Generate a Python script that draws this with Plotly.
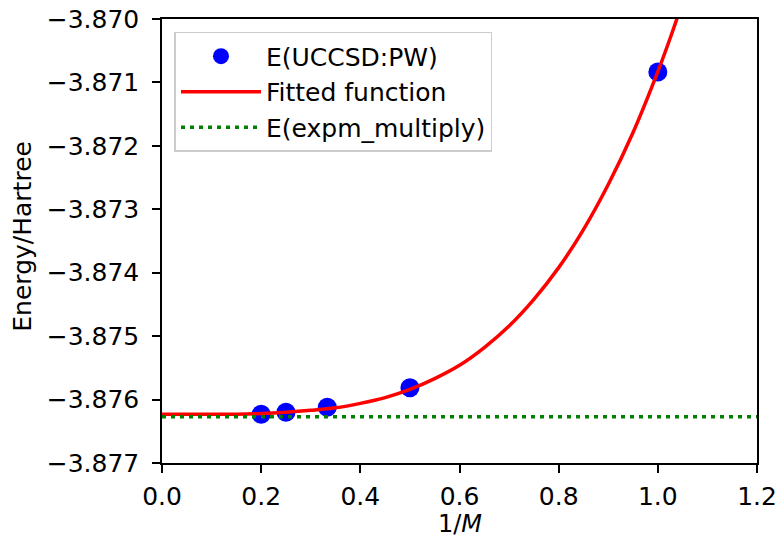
import plotly.graph_objects as go

# Data
inv_m = [0.2, 0.25, 1/3, 0.5, 1.0]
e_uccsd = [-3.876232, -3.876201, -3.876122, -3.875813, -3.870836]

fit_x = [0.0, 0.05, 0.1, 0.15, 0.2, 0.25, 0.3, 0.35, 0.4, 0.45, 0.5, 0.55, 0.6,
         0.65, 0.7, 0.75, 0.8, 0.85, 0.9, 0.95, 1.0, 1.025, 1.05]
fit_y = [-3.87623, -3.87623, -3.87623, -3.87623, -3.87622, -3.87620, -3.87617,
         -3.87613, -3.87606, -3.87597, -3.87584, -3.87567, -3.87546, -3.87518,
         -3.87484, -3.87442, -3.87392, -3.87332, -3.87261, -3.87179, -3.87083,
         -3.87030, -3.86973]

e_expm = -3.87627
x_range = [0.0, 1.2]
y_range = [-3.877, -3.870]
x_ticks = [0.0, 0.2, 0.4, 0.6, 0.8, 1.0, 1.2]
y_ticks = [-3.877, -3.876, -3.875, -3.874, -3.873, -3.872, -3.871, -3.870]

FONT = "DejaVu Sans"
FS = 25

fig = go.Figure()
fig.add_trace(go.Scatter(x=inv_m, y=e_uccsd, mode="markers", name="E(UCCSD:PW)",
                         marker=dict(color="#0000ff", size=19, line=dict(width=0))))
fig.add_trace(go.Scatter(x=fit_x, y=fit_y, mode="lines", name="Fitted function",
                         line=dict(color="#ff0000", width=3.5, shape="spline")))
fig.add_trace(go.Scatter(x=x_range, y=[e_expm, e_expm], mode="lines", name="E(expm_multiply)",
                         line=dict(color="#008000", width=3.5, dash="4px,5px")))

axis_common = dict(showline=True, linecolor="black", linewidth=1.5, mirror=True,
                   ticks="outside", ticklen=8, tickwidth=1.5, tickcolor="black",
                   showgrid=False, zeroline=False, automargin=False,
                   ticklabeloverflow="allow",
                   tickfont=dict(family=FONT, size=FS, color="black"))

fig.update_xaxes(range=x_range, tickvals=x_ticks, tickformat=".1f",
                 ticklabelstandoff=2, **axis_common)
fig.update_yaxes(range=y_range, tickvals=y_ticks, tickformat=".3f",
                 ticklabelstandoff=8, **axis_common)

fig.update_layout(
    width=779, height=540,
    margin=dict(l=161.5, r=22, t=19, b=77),
    plot_bgcolor="white", paper_bgcolor="white",
    font=dict(family=FONT, size=FS, color="black"),
    legend=dict(x=0.021, y=0.971, xanchor="left", yanchor="top",
                bgcolor="rgba(255,255,255,0.8)", bordercolor="#cccccc", borderwidth=1.5,
                font=dict(family=FONT, size=FS, color="black"),
                itemwidth=80, tracegroupgap=0),
    showlegend=True,
    annotations=[
        dict(text="1/<i>M</i>", xref="paper", yref="paper", x=0.5, y=-0.172,
             xanchor="center", yanchor="bottom", showarrow=False, borderpad=0,
             font=dict(family=FONT, size=24, color="black")),
        dict(text="Energy/Hartree", xref="paper", yref="paper", x=-0.235, y=0.51,
             xanchor="center", yanchor="middle", textangle=-90, showarrow=False,
             font=dict(family=FONT, size=FS, color="black")),
    ],
)

fig.write_html(
    "out.html",
    config={"displayModeBar": False},
    post_script="document.body.style.margin='0';document.body.style.overflow='hidden';",
)
